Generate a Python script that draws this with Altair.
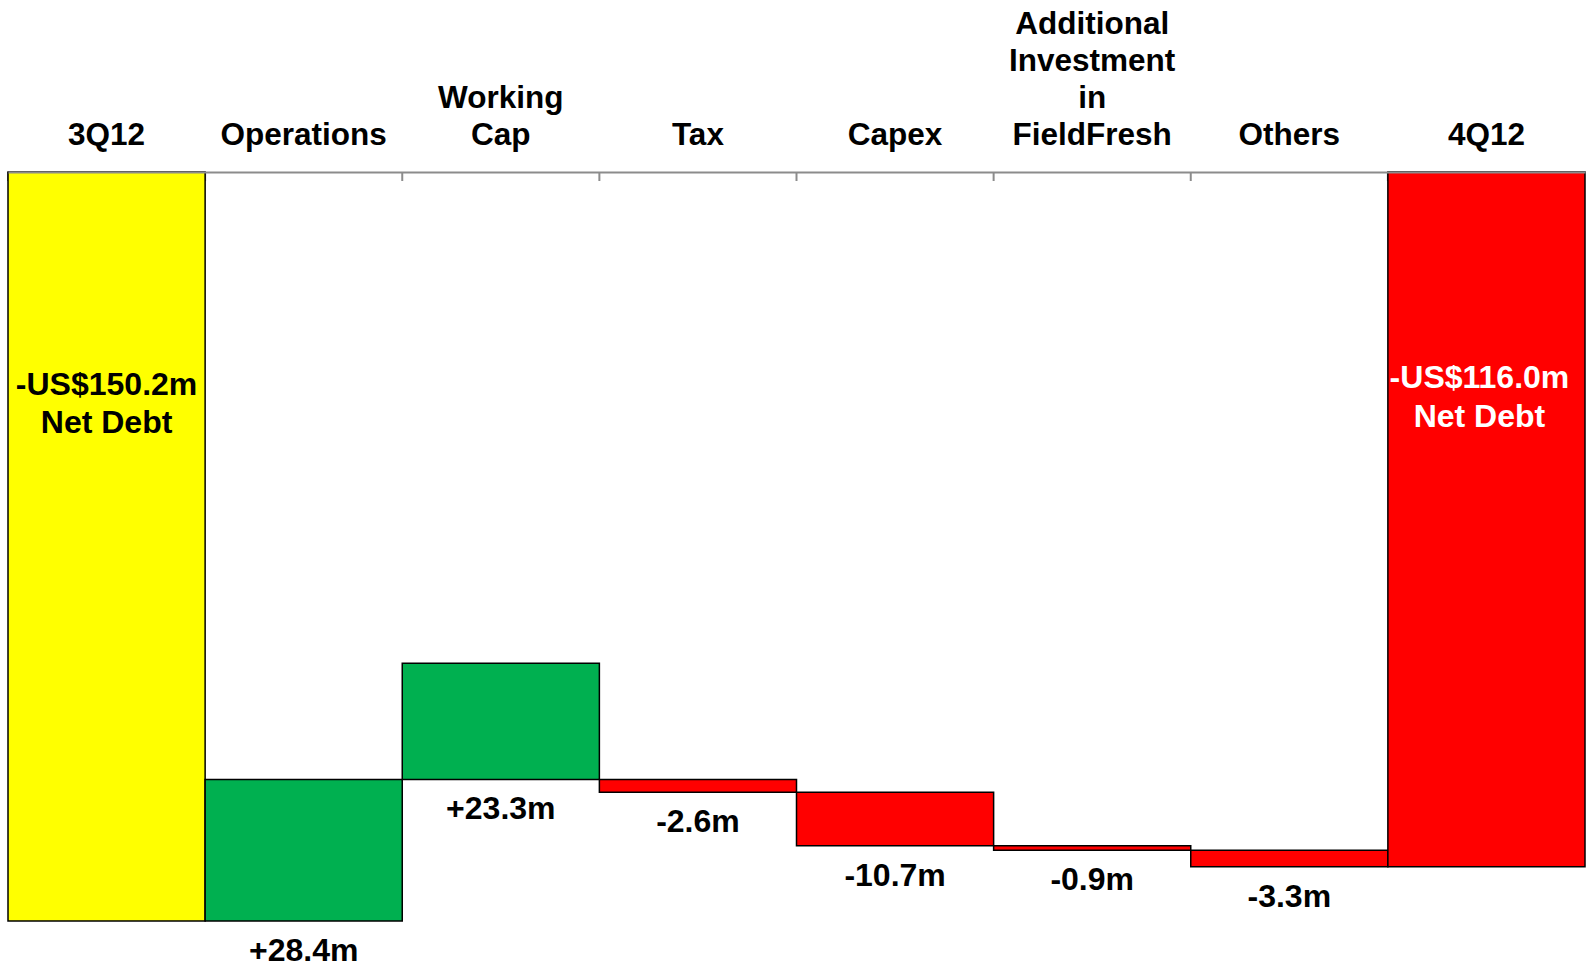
import altair as alt
import pandas as pd

# ---- data ----
categories = ["3Q12", "Operations", "Working Cap", "Tax", "Capex",
              "Additional Investment in FieldFresh", "Others", "4Q12"]
bar_start = [0, -150.2, -121.8, -121.8, -124.4, -135.1, -136.0, 0]
bar_end = [-150.2, -121.8, -98.5, -124.4, -135.1, -136.0, -139.3, -139.3]
kinds = ["start", "up", "up", "down", "down", "down", "down", "end"]
change_labels = ["", "+28.4m", "+23.3m", "-2.6m", "-10.7m", "-0.9m", "-3.3m", ""]
total_labels = {"3Q12": "-US$150.2m\nNet Debt", "4Q12": "-US$116.0m\nNet Debt"}

kind_domain = ["start", "up", "down", "end"]
kind_colors = ["#FFFF00", "#00B050", "#FF0000", "#FF0000"]

df = pd.DataFrame({
    "cat": categories,
    "start": bar_start,
    "end": bar_end,
    "kind": kinds,
    "label": change_labels,
})
df["low"] = df[["start", "end"]].min(axis=1)
df["total"] = df["cat"].map(total_labels).fillna("")

# category header lines, one row per word, counted from the bottom line
rows = []
for c in categories:
    words = c.split(" ")
    for i, w in enumerate(words):
        rows.append({"cat": c, "word": w, "k": len(words) - 1 - i})
heads = pd.DataFrame(rows)

FONT = "Liberation Sans"
LINE_H = 37

x_axis = alt.Axis(
    orient="top", title=None, ticks=False, labels=False, grid=False,
    domainColor="#8c8c8c", domainWidth=2, zindex=1,
)
x_scale = alt.Scale(paddingInner=0, paddingOuter=0)
y_scale = alt.Scale(domain=[-150.2, 0], nice=False, zero=False)

def X(**kw):
    return alt.X("cat:N", sort=categories, scale=x_scale, axis=x_axis, **kw)

base = alt.Chart(df)

ticks = base.mark_rule(color="#8c8c8c", strokeWidth=2).encode(
    x=X(bandPosition=0),
    y=alt.value(0),
    y2=alt.value(9),
)

bars = base.mark_bar(stroke="black", strokeWidth=1.5, opacity=1).encode(
    x=X(),
    y=alt.Y("start:Q", scale=y_scale, axis=None),
    y2="end:Q",
    color=alt.Color("kind:N", scale=alt.Scale(domain=kind_domain, range=kind_colors), legend=None),
)

changes = base.transform_filter("datum.label != ''").mark_text(
    font=FONT, fontSize=32, fontWeight="bold", color="black",
    baseline="middle", align="center", dy=30,
).encode(
    x=X(),
    y=alt.Y("low:Q", scale=y_scale, axis=None),
    text="label:N",
)

total_start = base.transform_filter("datum.cat == '3Q12'").mark_text(
    font=FONT, fontSize=32, fontWeight="bold", color="black",
    baseline="middle", align="center", lineBreak="\n", lineHeight=37.5, dy=213,
).encode(
    x=X(),
    y=alt.Y("start:Q", scale=y_scale, axis=None),
    text="total:N",
)

total_end = base.transform_filter("datum.cat == '4Q12'").mark_text(
    font=FONT, fontSize=32, fontWeight="bold", color="white",
    baseline="middle", align="center", lineBreak="\n", lineHeight=39, dy=206, dx=-7,
).encode(
    x=X(),
    y=alt.Y("start:Q", scale=y_scale, axis=None),
    text="total:N",
)

main = alt.layer(ticks, bars, changes, total_start, total_end)

header = alt.Chart(heads).transform_calculate(
    py=f"-27 - {LINE_H} * datum.k"
).mark_text(
    font=FONT, fontSize=31.5, fontWeight="bold", color="black",
    baseline="alphabetic", align="center",
).encode(
    x=X(),
    y=alt.Y("py:Q", scale=None, axis=None),
    text="word:N",
)

chart = alt.layer(main, header).resolve_scale(y="independent").properties(
    width=1577, height=749,
    autosize=alt.AutoSizeParams(type="none"),
    padding={"left": 8, "top": 172, "right": 6, "bottom": 48},
    background="white",
).configure_view(stroke=None)

chart.save("out.html", embed_options={"renderer": "svg", "actions": False})
